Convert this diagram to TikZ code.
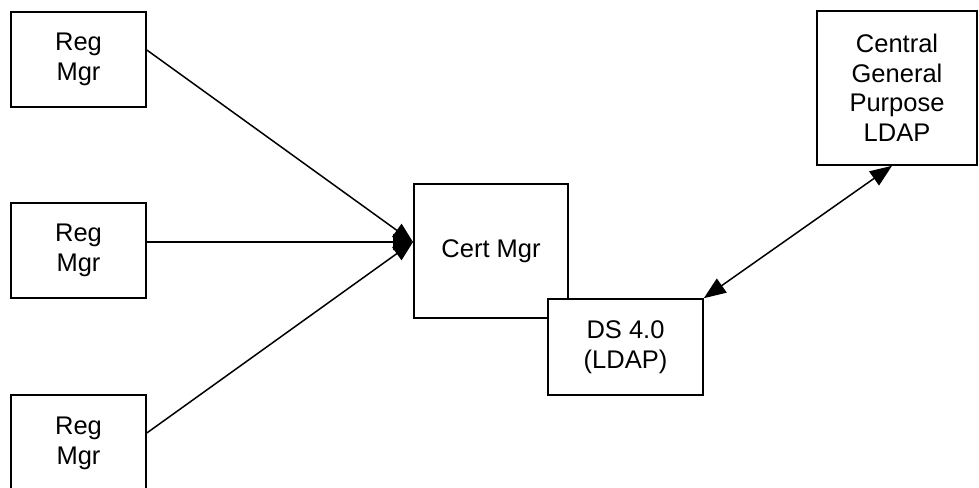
\documentclass[tikz,border=0pt]{standalone}
\usepackage{fontspec}
\setmainfont{Liberation Sans}
\usetikzlibrary{arrows.meta}
\begin{document}
\begin{tikzpicture}[x=1pt,y=-1pt,
  box/.style={draw=black,line width=1.6pt,fill=white,inner sep=0pt,align=center,
    font=\fontsize{25.5pt}{29.5pt}\selectfont},
  conn/.style={draw=black,line width=1.5pt},
  tip/.style={-{Triangle[length=20pt,width=16pt]}},
  dtip/.style={{Triangle[length=22pt,width=17pt]}-{Triangle[length=22pt,width=17pt]}}]
\useasboundingbox (0,0) rectangle (979,487);
\clip (0,0) rectangle (979,487);
\node[box,minimum width=135pt,minimum height=95pt] (r1) at (78.5,59.5) {Reg\\Mgr};
\node[box,minimum width=135pt,minimum height=95pt] (r2) at (78.5,250.5) {Reg\\Mgr};
\node[box,minimum width=135pt,minimum height=97pt] (r3) at (78.5,443.5) {Reg\\Mgr};
\node[box,minimum width=154pt,minimum height=134pt] (cm) at (491,251) {Cert Mgr};
\node[box,minimum width=155pt,minimum height=96pt] (ds) at (625.5,347) {DS 4.0\\(LDAP)};
\node[box,minimum width=160pt,minimum height=154pt] (cg) at (897,88) {Central\\General\\Purpose\\LDAP};
\coordinate (m) at (413,242);
\draw[conn,tip] ([yshift=9.5pt]r1.east) -- (m);
\draw[conn,tip] ([yshift=8.5pt]r2.east) -- (m);
\draw[conn,tip] ([yshift=10.5pt]r3.east) -- (m);
\draw[conn,dtip] (ds.north east) -- ([xshift=-5pt]cg.south);
\end{tikzpicture}
\end{document}
